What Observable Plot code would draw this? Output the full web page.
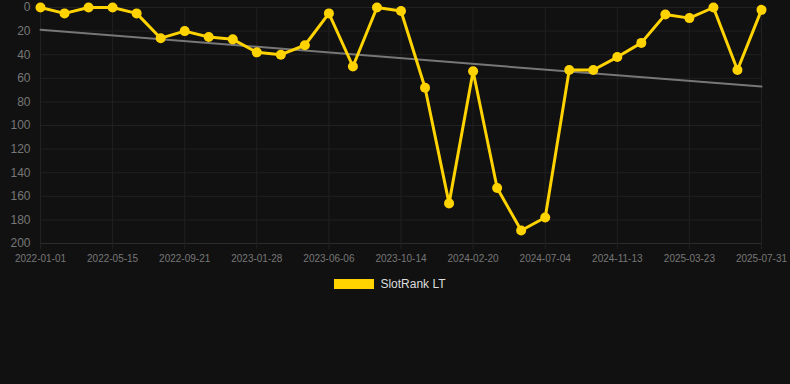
<!DOCTYPE html>
<html>
<head>
<meta charset="utf-8">
<script src="https://cdn.jsdelivr.net/npm/d3@7"></script>
<script src="https://cdn.jsdelivr.net/npm/@observablehq/plot@0.6"></script>
<style>
  html, body { margin: 0; padding: 0; background: #111111; }
  body { width: 790px; height: 384px; overflow: hidden; font-family: "Liberation Sans", Arial, sans-serif; }
  #legend { display: flex; justify-content: center; align-items: center; margin-top: 9px; height: 10px; padding-right: 10px; }
  #legend .sw { width: 40px; height: 10px; background: #FFD300; margin-right: 6px; }
  #legend .lb { color: #dddddd; font-size: 12px; }
  svg { display: block; }
</style>
</head>
<body>
<div id="chart"></div>
<div id="legend"><span class="sw"></span><span class="lb">SlotRank LT</span></div>
<script>
const seriesName = "SlotRank LT";
const rankValues = [0, 5, 0, 0, 5, 26, 20, 25, 27, 38, 40, 32, 5, 50, 0, 3, 68, 166, 54, 153, 189, 178, 53, 53, 42, 30, 6, 9, 0, 53, 2];
const tickLabels = ["2022-01-01", "2022-05-15", "2022-09-21", "2023-01-28", "2023-06-06", "2023-10-14", "2024-02-20", "2024-07-04", "2024-11-13", "2025-03-23", "2025-07-31"];
const tickIndices = [0, 3, 6, 9, 12, 15, 18, 21, 24, 27, 30];
const yTicks = [0, 20, 40, 60, 80, 100, 120, 140, 160, 180, 200];

const data = rankValues.map((v, i) => ({i, v}));
const labelOf = new Map(tickIndices.map((t, k) => [t, tickLabels[k]]));

const chart = Plot.plot({
  width: 790,
  height: 270,
  marginTop: 7,
  marginBottom: 27,
  marginLeft: 40,
  marginRight: 29,
  style: {background: "#111111", color: "#777777", fontFamily: "Liberation Sans, Arial, sans-serif"},
  x: {type: "linear", domain: [0, rankValues.length - 1], label: null},
  y: {domain: [0, 200], reverse: true, label: null},
  marks: [
    Plot.gridX(tickIndices, {stroke: "#212121", strokeOpacity: 1}),
    Plot.gridY(yTicks, {stroke: "#212121", strokeOpacity: 1}),
    Plot.ruleY([200], {stroke: "#2c2c2c"}),
    Plot.axisY(yTicks, {tickSize: 0, tickPadding: 10, fontSize: 12, fill: "#777777", label: null}),
    Plot.axisX(tickIndices, {tickSize: 6, stroke: "#222222", tickPadding: 5, fontSize: 10, fill: "#777777", label: null, tickFormat: d => labelOf.get(d)}),
    Plot.linearRegressionY(data, {x: "i", y: "v", ci: 0, stroke: "#777777", strokeWidth: 2}),
    Plot.line(data, {x: "i", y: "v", stroke: "#FFD300", strokeWidth: 3}),
    Plot.dot(data, {x: "i", y: "v", r: 5, fill: "#FFD300", stroke: "none"})
  ]
});
document.getElementById("chart").appendChild(chart);
</script>
</body>
</html>
